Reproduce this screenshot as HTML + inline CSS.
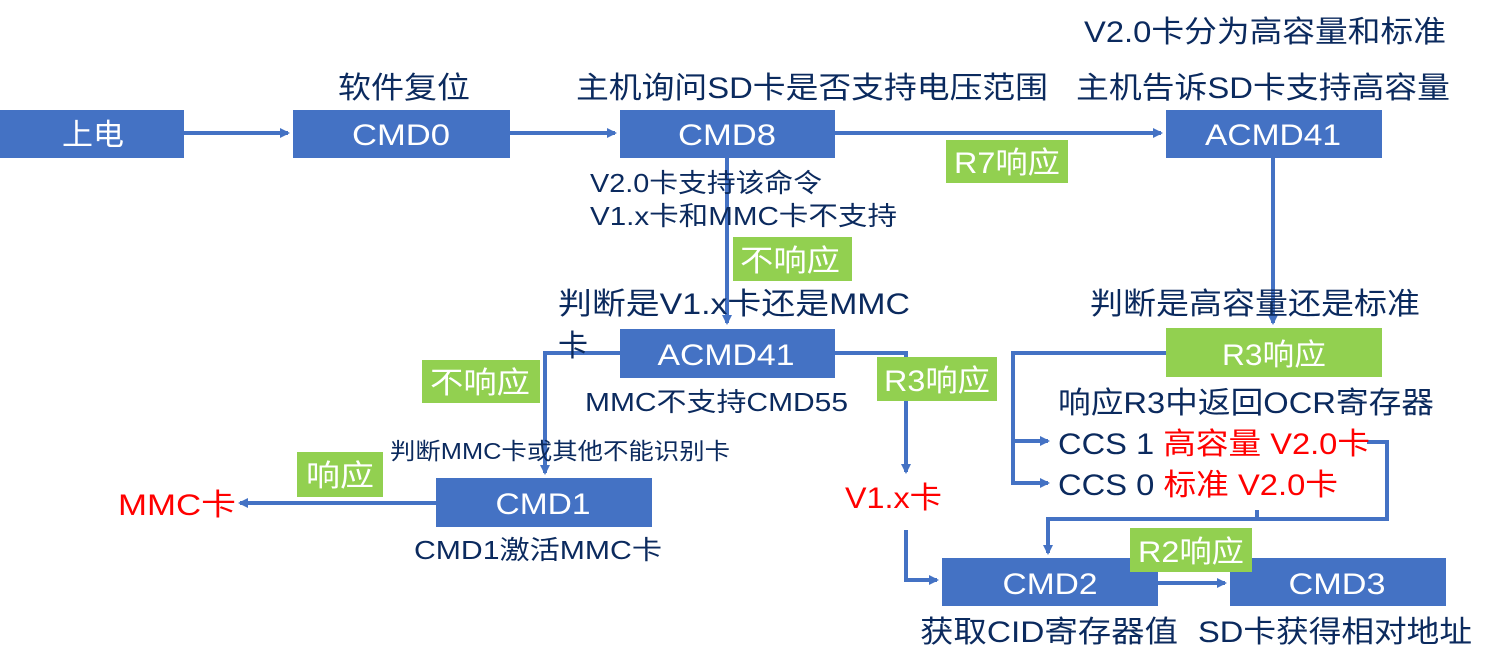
<!DOCTYPE html>
<html><head><meta charset="utf-8"><style>
html,body{margin:0;padding:0;background:#fff;}
svg{display:block;font-family:"Liberation Sans","Noto Sans CJK SC",sans-serif;}
</style></head><body>
<svg width="1492" height="672" viewBox="0 0 1492 672" xmlns="http://www.w3.org/2000/svg">
<defs><marker id="a" markerWidth="10" markerHeight="10" refX="8" refY="5" orient="auto" markerUnits="userSpaceOnUse"><path d="M0,0 L10,5 L0,10 z" fill="#4472C4"/></marker></defs>
<g fill="#4472C4">
<rect x="0" y="110" width="184" height="48"/>
<rect x="293" y="110" width="217" height="48"/>
<rect x="620" y="110" width="215" height="48"/>
<rect x="1166" y="110" width="216" height="48"/>
<rect x="620" y="329" width="215" height="49"/>
<rect x="436" y="478" width="216" height="49"/>
<rect x="942" y="558" width="216" height="48"/>
<rect x="1230" y="558" width="216" height="48"/>
</g>
<g fill="none" stroke="#4472C4" stroke-width="4">
<path d="M184,133 H288" marker-end="url(#a)"/>
<path d="M510,133 H615" marker-end="url(#a)"/>
<path d="M835,133 H1161" marker-end="url(#a)"/>
<path d="M1273,158 V323" marker-end="url(#a)"/>
<path d="M727,158 V323" marker-end="url(#a)"/>
<path d="M620,353 H545 V473" marker-end="url(#a)"/>
<path d="M835,353 H906 V472" marker-end="url(#a)"/>
<path d="M906,530 V580 H937" marker-end="url(#a)"/>
<path d="M436,503 H240" marker-end="url(#a)"/>
<path d="M1166,353 H1013 V483 H1048" marker-end="url(#a)"/>
<path d="M1013,441 H1048" marker-end="url(#a)"/>
<path d="M1367,442 H1387 V519 H1257 V510"/>
<path d="M1257,519 H1048 V553" marker-end="url(#a)"/>
<path d="M1158,583 H1225" marker-end="url(#a)"/>
</g>
<g fill="#92D050">
<rect x="946" y="140" width="122" height="43"/>
<rect x="733" y="237" width="119" height="44"/>
<rect x="422" y="360" width="118" height="43"/>
<rect x="877" y="357" width="120" height="44"/>
<rect x="297" y="452" width="86" height="45"/>
<rect x="1130" y="528" width="122" height="44"/>
<rect x="1166" y="328" width="216" height="49"/>
</g>
<g fill="#fff" font-size="30" text-anchor="middle" lengthAdjust="spacingAndGlyphs">
<text x="93" y="145" textLength="62" lengthAdjust="spacingAndGlyphs">上电</text>
<text x="401" y="145" textLength="98" lengthAdjust="spacingAndGlyphs">CMD0</text>
<text x="727" y="145" textLength="98" lengthAdjust="spacingAndGlyphs">CMD8</text>
<text x="1273" y="145" textLength="136" lengthAdjust="spacingAndGlyphs">ACMD41</text>
<text x="726" y="365" textLength="137" lengthAdjust="spacingAndGlyphs">ACMD41</text>
<text x="543" y="514" textLength="95" lengthAdjust="spacingAndGlyphs">CMD1</text>
<text x="1050" y="594" textLength="95" lengthAdjust="spacingAndGlyphs">CMD2</text>
<text x="1337" y="594" textLength="97" lengthAdjust="spacingAndGlyphs">CMD3</text>
<text x="1007" y="173" textLength="106" lengthAdjust="spacingAndGlyphs">R7响应</text>
<text x="790" y="271" textLength="100" lengthAdjust="spacingAndGlyphs">不响应</text>
<text x="480" y="393" textLength="100" lengthAdjust="spacingAndGlyphs">不响应</text>
<text x="937" y="391" textLength="106" lengthAdjust="spacingAndGlyphs">R3响应</text>
<text x="340" y="486" textLength="68" lengthAdjust="spacingAndGlyphs">响应</text>
<text x="1191" y="562" textLength="106" lengthAdjust="spacingAndGlyphs">R2响应</text>
<text x="1274" y="365" textLength="104" lengthAdjust="spacingAndGlyphs">R3响应</text>
</g>
<g fill="#0B2A5E" font-size="30">
<text x="338" y="98" textLength="132" lengthAdjust="spacingAndGlyphs">软件复位</text>
<text x="576" y="98" textLength="472" lengthAdjust="spacingAndGlyphs">主机询问SD卡是否支持电压范围</text>
<text x="1084" y="42" textLength="362" lengthAdjust="spacingAndGlyphs">V2.0卡分为高容量和标准</text>
<text x="1076" y="98" textLength="374" lengthAdjust="spacingAndGlyphs">主机告诉SD卡支持高容量</text>
<text x="558" y="314" textLength="352" lengthAdjust="spacingAndGlyphs">判断是V1.x卡还是MMC</text>
<text x="558" y="356">卡</text>
<text x="1090" y="314" textLength="330" lengthAdjust="spacingAndGlyphs">判断是高容量还是标准</text>
<text x="1058" y="413" textLength="376" lengthAdjust="spacingAndGlyphs">响应R3中返回OCR寄存器</text>
<text x="1058" y="454" textLength="312" lengthAdjust="spacingAndGlyphs">CCS 1 <tspan fill="#FF0000">高容量 V2.0卡</tspan></text>
<text x="1058" y="495" textLength="280" lengthAdjust="spacingAndGlyphs">CCS 0 <tspan fill="#FF0000">标准 V2.0卡</tspan></text>
<text x="920" y="642" textLength="258" lengthAdjust="spacingAndGlyphs">获取CID寄存器值</text>
<text x="1198" y="642" textLength="274" lengthAdjust="spacingAndGlyphs">SD卡获得相对地址</text>
</g>
<g fill="#0B2A5E" font-size="26">
<text x="590" y="192" textLength="232" lengthAdjust="spacingAndGlyphs">V2.0卡支持该命令</text>
<text x="590" y="225" textLength="307" lengthAdjust="spacingAndGlyphs">V1.x卡和MMC卡不支持</text>
<text x="585" y="411" textLength="263" lengthAdjust="spacingAndGlyphs">MMC不支持CMD55</text>
<text x="414" y="559" textLength="248" lengthAdjust="spacingAndGlyphs">CMD1激活MMC卡</text>
</g>
<text x="390" y="459" fill="#0B2A5E" font-size="23" textLength="340" lengthAdjust="spacingAndGlyphs">判断MMC卡或其他不能识别卡</text>
<g fill="#FF0000" font-size="30">
<text x="118" y="515" textLength="118" lengthAdjust="spacingAndGlyphs">MMC卡</text>
<text x="845" y="508" textLength="97" lengthAdjust="spacingAndGlyphs">V1.x卡</text>
</g>
</svg>
</body></html>
